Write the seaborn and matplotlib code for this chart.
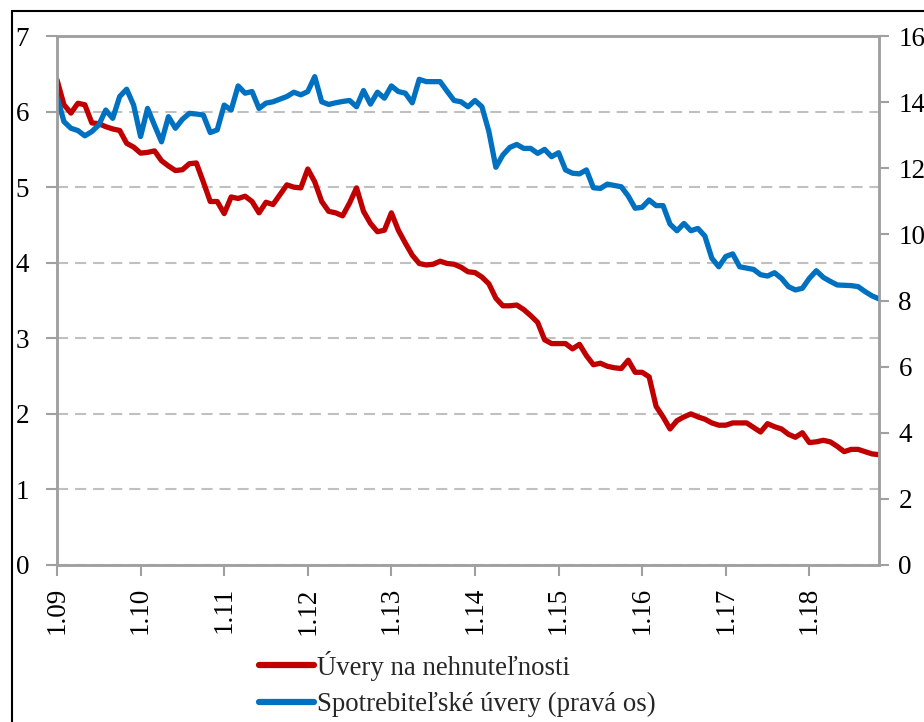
import numpy as np
import pandas as pd
import matplotlib
matplotlib.use("Agg")
import matplotlib.pyplot as plt
from matplotlib.patches import Rectangle
import seaborn as sns

# mesačné údaje 1/2009 - 11/2018
uvery_nehnutelnosti = [
    6.42, 6.09, 5.98, 6.11, 6.09, 5.85, 5.84, 5.80, 5.77, 5.75, 5.58, 5.53,
    5.45, 5.46, 5.48, 5.35, 5.28, 5.22, 5.23, 5.31, 5.32, 5.07, 4.81, 4.81,
    4.65, 4.87, 4.85, 4.88, 4.81, 4.66, 4.80, 4.77, 4.90, 5.03, 5.00, 4.99,
    5.24, 5.07, 4.81, 4.68, 4.66, 4.62, 4.79, 4.99, 4.68, 4.52, 4.41, 4.43,
    4.66, 4.43, 4.26, 4.10, 3.99, 3.97, 3.98, 4.02, 3.99, 3.98, 3.94, 3.88,
    3.87, 3.81, 3.72, 3.53, 3.43, 3.43, 3.44, 3.38, 3.30, 3.21, 2.98, 2.93,
    2.93, 2.93, 2.86, 2.92, 2.77, 2.65, 2.67, 2.63, 2.61, 2.60, 2.71, 2.55,
    2.55, 2.49, 2.10, 1.96, 1.80, 1.91, 1.96, 2.00, 1.96, 1.93, 1.88, 1.85,
    1.85, 1.88, 1.88, 1.88, 1.82, 1.76, 1.87, 1.83, 1.80, 1.73, 1.69, 1.75,
    1.62, 1.63, 1.65, 1.63, 1.57, 1.50, 1.53, 1.53, 1.50, 1.47, 1.46,
]
spotrebitelske_uvery = [
    14.17, 13.41, 13.21, 13.14, 12.98, 13.11, 13.31, 13.76, 13.51, 14.17, 14.39, 13.91,
    12.96, 13.81, 13.30, 12.80, 13.56, 13.21, 13.48, 13.66, 13.64, 13.61, 13.08, 13.16,
    13.91, 13.76, 14.49, 14.27, 14.32, 13.81, 13.97, 14.01, 14.09, 14.17, 14.30, 14.22,
    14.32, 14.77, 14.01, 13.93, 13.98, 14.02, 14.05, 13.86, 14.35, 13.94, 14.30, 14.12,
    14.49, 14.32, 14.27, 13.98, 14.69, 14.62, 14.62, 14.62, 14.33, 14.05, 14.01, 13.86,
    14.05, 13.86, 13.11, 12.03, 12.40, 12.63, 12.72, 12.60, 12.60, 12.45, 12.57, 12.35,
    12.47, 11.95, 11.85, 11.83, 11.95, 11.41, 11.39, 11.52, 11.48, 11.44, 11.16, 10.79,
    10.82, 11.04, 10.87, 10.87, 10.31, 10.11, 10.33, 10.11, 10.18, 9.95, 9.28, 9.02,
    9.33, 9.41, 9.02, 8.98, 8.94, 8.78, 8.74, 8.84, 8.67, 8.42, 8.32, 8.37,
    8.67, 8.90, 8.70, 8.58, 8.47, 8.46, 8.45, 8.42, 8.27, 8.14, 8.05,
]
tick_labels = ["1.09", "1.10", "1.11", "1.12", "1.13", "1.14", "1.15", "1.16", "1.17", "1.18"]
label_red = "Úvery na nehnuteľnosti"
label_blue = "Spotrebiteľské úvery (pravá os)"

sns.set_theme(style="white")
plt.rcParams["font.family"] = ["Liberation Serif", "DejaVu Serif"]
plt.rcParams["font.size"] = 19
plt.rcParams["lines.scale_dashes"] = False

df = pd.DataFrame({
    "mesiac": np.arange(len(uvery_nehnutelnosti)),
    "red": uvery_nehnutelnosti,
    "blue": spotrebitelske_uvery,
})

gray = "#A0A0A0"
fs = 19.5
fig = plt.figure(figsize=(9.24, 7.22), dpi=100)
ax = fig.add_axes([57 / 924, 1 - 565 / 722, 822 / 924, 529 / 722])
ax2 = ax.twinx()

sns.lineplot(data=df, x="mesiac", y="red", ax=ax, color="#C00000", linewidth=3.8,
             label=label_red, legend=False)
sns.lineplot(data=df, x="mesiac", y="blue", ax=ax2, color="#0070C0", linewidth=3.8,
             label=label_blue, legend=False)

ax.set_xlim(0, len(df) - 1)
ax.set_ylim(0, 7)
ax2.set_ylim(0, 16)
ax.set_yticks(range(0, 8))
ax2.set_yticks(range(0, 17, 2))
ax.set_xticks(np.arange(len(tick_labels)) * 12)
ax.set_xticklabels(tick_labels, rotation=90)
ax.set_xlabel("")
ax.set_ylabel("")
ax2.set_ylabel("")

ax.yaxis.grid(True, color="#C0C0C0", linestyle=(0, (8, 5)), linewidth=1.5)
ax.xaxis.grid(False)
ax2.grid(False)
ax.set_axisbelow(True)

for a in (ax, ax2):
    for s in a.spines.values():
        s.set_color(gray)
        s.set_linewidth(1.8)
        s.set_visible(True)
ax.tick_params(axis="y", direction="out", length=8, width=1.5, color=gray, pad=12,
               left=True, labelsize=fs, labelcolor="black")
ax.tick_params(axis="x", direction="out", length=8, width=1.5, color=gray, pad=8,
               bottom=True, labelsize=fs, labelcolor="black")
ax2.tick_params(axis="y", direction="out", length=7, width=1.5, color=gray, pad=7,
                right=True, labelsize=fs, labelcolor="black")

# rámik okolo grafu
fig.add_artist(Rectangle((12 / 924, -0.1), 1.2, 1 - 11 / 722 + 0.1, transform=fig.transFigure,
                         fill=False, edgecolor="black", linewidth=1.5))

h1, l1 = ax.get_legend_handles_labels()
h2, l2 = ax2.get_legend_handles_labels()
leg = fig.legend(h1 + h2, l1 + l2, loc="center", bbox_to_anchor=(457 / 924, 1 - 684 / 722),
                 ncol=1, frameon=False, handlelength=2.05, handletextpad=0.1,
                 labelspacing=0.42, fontsize=19.3)
for line in leg.get_lines():
    line.set_linewidth(4.5)
    line.set_solid_capstyle("round")

fig.savefig("out.png", dpi=100)
